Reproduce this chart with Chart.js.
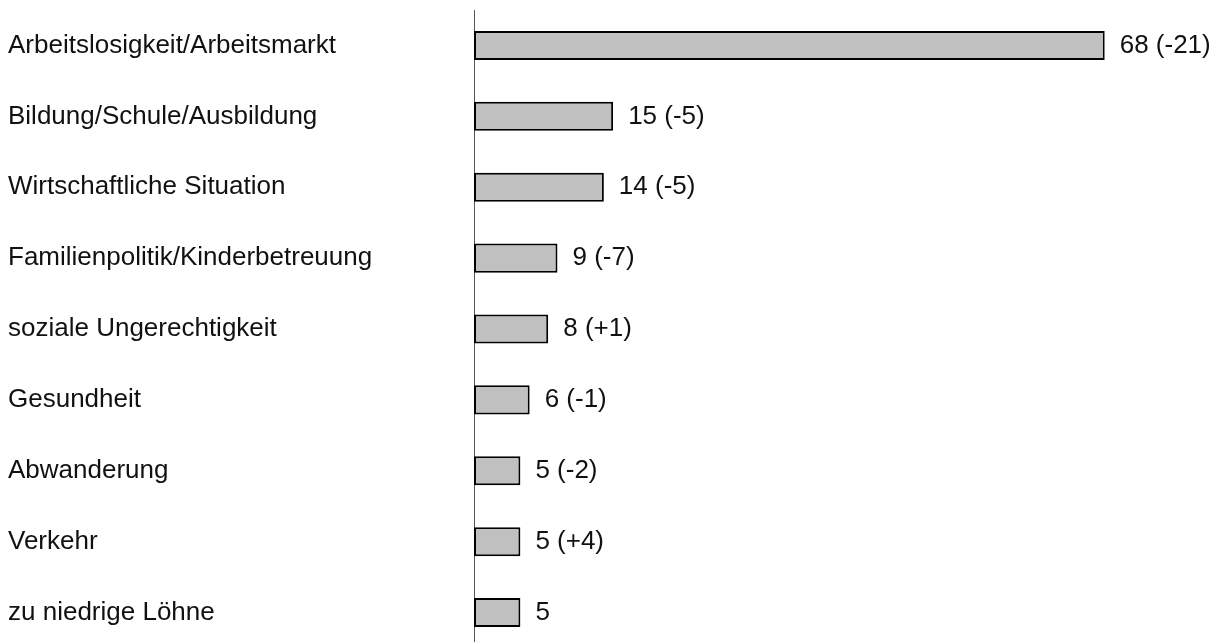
<!DOCTYPE html>
<html>
<head>
<meta charset="utf-8">
<script src="https://cdn.jsdelivr.net/npm/chart.js@4/dist/chart.umd.min.js"></script>
<style>
  html, body { margin: 0; padding: 0; background: #fff; overflow: hidden; }
  #wrap { width: 1221px; height: 648px; position: relative; }
</style>
</head>
<body>
<div id="wrap"><canvas id="topicChart"></canvas></div>
<script>
const categories = [
    'Arbeitslosigkeit/Arbeitsmarkt',
    'Bildung/Schule/Ausbildung',
    'Wirtschaftliche Situation',
    'Familienpolitik/Kinderbetreuung',
    'soziale Ungerechtigkeit',
    'Gesundheit',
    'Abwanderung',
    'Verkehr',
    'zu niedrige Löhne'
];
const values = [68, 15, 14, 9, 8, 6, 5, 5, 5];
const changes = ['-21', '-5', '-5', '-7', '+1', '-1', '-2', '+4', null];

const valueLabels = values.map((v, i) => changes[i] ? v + ' (' + changes[i] + ')' : String(v));

const FONT = '"Liberation Sans", Arial, sans-serif';

const barValueLabels = {
    id: 'barValueLabels',
    afterDatasetsDraw(chart) {
        const ctx = chart.ctx;
        const meta = chart.getDatasetMeta(0);
        ctx.save();
        ctx.font = '26px ' + FONT;
        ctx.fillStyle = '#111';
        ctx.textAlign = 'left';
        ctx.textBaseline = 'middle';
        meta.data.forEach((bar, i) => {
            ctx.fillText(valueLabels[i], bar.x + 15, bar.y);
        });
        ctx.restore();
    }
};

const ctx = document.getElementById('topicChart').getContext('2d');
new Chart(ctx, {
    type: 'bar',
    data: {
        labels: categories,
        datasets: [{
            data: values,
            backgroundColor: '#c0c0c0',
            borderColor: '#000',
            borderWidth: 2,
            borderSkipped: false,
            barPercentage: 0.41,
            categoryPercentage: 1
        }]
    },
    options: {
        indexAxis: 'y',
        responsive: true,
        maintainAspectRatio: false,
        animation: false,
        layout: { padding: { left: 8, right: 5, top: 10, bottom: 0 } },
        plugins: {
            legend: { display: false },
            tooltip: { enabled: false }
        },
        scales: {
            x: {
                display: false,
                min: 0,
                max: 80
            },
            y: {
                afterFit(scale) {
                    scale.width = 466;
                    scale.paddingTop = 0;
                    scale.paddingBottom = 0;
                },
                grid: { display: false },
                border: { display: true, color: '#555', width: 1 },
                ticks: {
                    crossAlign: 'far',
                    color: '#111',
                    font: { family: FONT, size: 26 }
                }
            }
        }
    },
    plugins: [barValueLabels]
});
</script>
</body>
</html>
